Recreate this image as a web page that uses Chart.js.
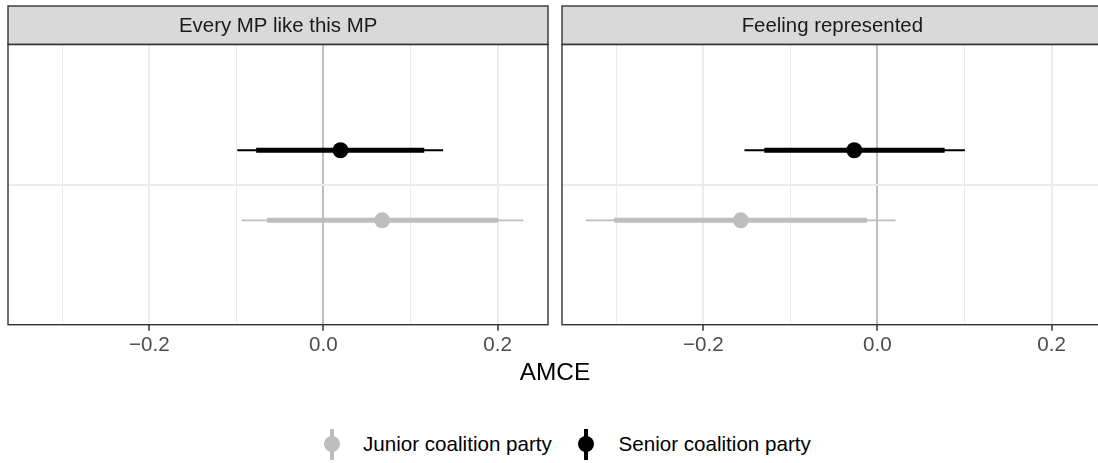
<!DOCTYPE html>
<html>
<head>
<meta charset="utf-8">
<title>AMCE by coalition party</title>
<script src="https://cdn.jsdelivr.net/npm/chart.js@4.4.1/dist/chart.umd.min.js"></script>
<style>
  body {
    margin: 0;
    width: 1098px;
    height: 463px;
    overflow: hidden;
    position: relative;
    background: #fff;
    font-family: "Liberation Sans", Arial, sans-serif;
  }
  .panel { position: absolute; top: 0; width: 556px; height: 400px; }
  #axisTitle {
    position: absolute; left: 0; width: 1110px; top: 360px;
    text-align: center; font-size: 24.4px; line-height: 24px; color: #000;
  }
  .key { position: absolute; width: 16px; height: 31px; }
  .key .bar { position: absolute; left: 6px; width: 4px; top: 0; bottom: 0; }
  .key .dot { position: absolute; left: 0; top: 7.5px; width: 16px; height: 16px; border-radius: 50%; }
  .key-label {
    position: absolute; top: 434px; font-size: 20.6px; line-height: 20px;
    color: #000; white-space: nowrap;
  }
</style>
</head>
<body>
<div class="panel" style="left:0"><canvas id="panelEvery"></canvas></div>
<div class="panel" style="left:554px"><canvas id="panelFeeling"></canvas></div>
<div id="axisTitle">AMCE</div>
<div id="legend"></div>

<script>
// Facets and groups
const facets = ["Every MP like this MP", "Feeling represented"];
const groups = ["Junior coalition party", "Senior coalition party"];

// AMCE per group [junior, senior]; thick bar = 90% CI, thin bar = 95% CI
const everyEstimate = [0.0675, 0.0196];
const everyLow90 = [-0.065, -0.0773];
const everyHigh90 = [0.2005, 0.1158];
const everyLow95 = [-0.094, -0.099];
const everyHigh95 = [0.2295, 0.1375];

const feelingEstimate = [-0.157, -0.0266];
const feelingLow90 = [-0.3024, -0.13];
const feelingHigh90 = [-0.0119, 0.0772];
const feelingLow95 = [-0.335, -0.1528];
const feelingHigh95 = [0.0208, 0.1005];

// x axis ticks (minor ones unlabelled)
const tickValues = [-0.3, -0.2, -0.1, 0, 0.1, 0.2];
const tickLabels = ["", "\u22120.2", "", "0.0", "", "0.2"];

// styling
const groupColors = ["#bebebe", "#000000"];
const groupOffset = [-0.255, 0.245]; // dodge: junior below, senior above
const xMin = -0.3624;
const xMax = 0.258;

Chart.defaults.font.family = '"Liberation Sans", Arial, sans-serif';

// grey strip on top + dark frame round the panel
const facetFrame = {
  id: "facetFrame",
  beforeDraw(chart) {
    const { ctx, chartArea: a } = chart;
    ctx.save();
    ctx.fillStyle = "#d9d9d9";
    ctx.fillRect(a.left, 6, a.right - a.left, a.top - 6);
    ctx.restore();
  },
  afterDraw(chart) {
    const { ctx, chartArea: a } = chart;
    ctx.save();
    ctx.strokeStyle = "#333333";
    ctx.lineWidth = 1.4;
    ctx.strokeRect(a.left, 6, a.right - a.left, a.top - 6);
    ctx.strokeRect(a.left, a.top, a.right - a.left, a.bottom - a.top);
    ctx.restore();
  },
};

function makePanel(canvasId, title, est, lo90, hi90, lo95, hi95, padLeft) {
  const datasets = [];
  groups.forEach((g, i) => {
    const y = groupOffset[i];
    datasets.push({
      type: "line",
      label: g + " (95%)",
      data: [{ x: lo95[i], y }, { x: hi95[i], y }],
      borderColor: groupColors[i],
      borderWidth: 1.8,
      pointRadius: 0,
      showLine: true,
    });
    datasets.push({
      type: "line",
      label: g + " (90%)",
      data: [{ x: lo90[i], y }, { x: hi90[i], y }],
      borderColor: groupColors[i],
      borderWidth: 5,
      pointRadius: 0,
      showLine: true,
    });
    datasets.push({
      type: "scatter",
      label: g,
      data: [{ x: est[i], y }],
      backgroundColor: groupColors[i],
      borderWidth: 0,
      pointRadius: 8,
    });
  });

  return new Chart(document.getElementById(canvasId), {
    type: "scatter",
    data: { datasets },
    options: {
      responsive: true,
      maintainAspectRatio: false,
      animation: false,
      events: [],
      layout: { padding: { left: padLeft, right: 7, top: 6, bottom: 35.3 } },
      plugins: {
        legend: { display: false },
        tooltip: { enabled: false },
        title: {
          display: true,
          text: title,
          color: "#1a1a1a",
          font: { size: 20.4, weight: "normal", lineHeight: 1.15 },
          padding: { top: 8.5, bottom: 6.5 },
        },
      },
      scales: {
        x: {
          type: "linear",
          min: xMin,
          max: xMax,
          afterBuildTicks: (axis) => {
            axis.ticks = tickValues.map((v) => ({ value: v }));
          },
          afterFit: (axis) => {
            axis.height = 40;
          },
          border: { display: false },
          grid: {
            color: (c) => (tickValues[c.index] === 0 ? "#bebebe" : "#ebebeb"),
            lineWidth: (c) => (tickLabels[c.index] ? 2 : 1),
            tickColor: (c) => (tickLabels[c.index] ? "#333333" : "rgba(0,0,0,0)"),
            tickLength: 6,
            tickWidth: 1.5,
          },
          ticks: {
            autoSkip: false,
            maxRotation: 0,
            padding: 2.5,
            color: "#4d4d4d",
            font: { size: 20.6 },
            callback: (v, i) => tickLabels[i],
          },
        },
        y: {
          type: "linear",
          min: -1,
          max: 1,
          afterBuildTicks: (axis) => {
            axis.ticks = [{ value: 0 }];
          },
          afterFit: (axis) => {
            axis.width = 0;
          },
          border: { display: false },
          grid: { color: "#ebebeb", lineWidth: 2, drawTicks: false },
          ticks: { display: false },
        },
      },
    },
    plugins: [facetFrame],
  });
}

makePanel("panelEvery", facets[0], everyEstimate, everyLow90, everyHigh90, everyLow95, everyHigh95, 7.3);
makePanel("panelFeeling", facets[1], feelingEstimate, feelingLow90, feelingHigh90, feelingLow95, feelingHigh95, 7.7);

// legend below the panels
const keyCenters = [331.5, 586];
const labelStarts = [363, 618.5];
const legendEl = document.getElementById("legend");
groups.forEach((g, i) => {
  const key = document.createElement("div");
  key.className = "key";
  key.style.left = keyCenters[i] - 8 + "px";
  key.style.top = "428.5px";
  key.innerHTML =
    `<div class="bar" style="background:${groupColors[i]}"></div>` +
    `<div class="dot" style="background:${groupColors[i]}"></div>`;
  legendEl.appendChild(key);

  const label = document.createElement("div");
  label.className = "key-label";
  label.style.left = labelStarts[i] + "px";
  label.textContent = g;
  legendEl.appendChild(label);
});
</script>
</body>
</html>
